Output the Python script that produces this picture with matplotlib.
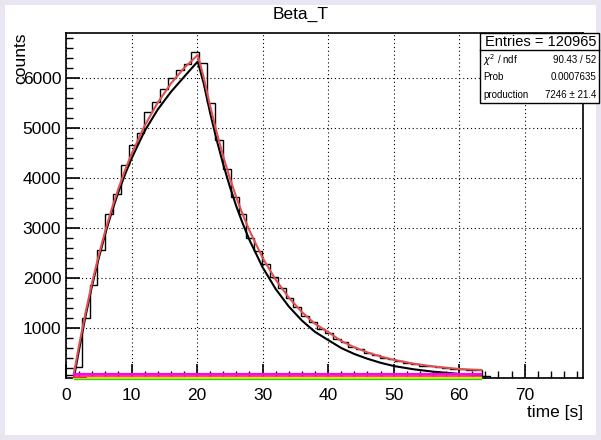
import numpy as np
import matplotlib
matplotlib.use("Agg")
import matplotlib.pyplot as plt
from matplotlib.patches import Rectangle

plt.rcParams['font.family'] = ['Liberation Sans', 'DejaVu Sans']

# histogram data (bin width ~1.2 s, 66 bins on 0..79)
n_bins = 66
x_max = 79.0
counts = [60, 226, 1193, 1860, 2560, 3280, 3690, 4260, 4660, 4900,
          5320, 5530, 5790, 6000, 6170, 6290, 6530, 6300, 5500, 4760,
          4190, 3630, 3290, 2800, 2550, 2280, 2030, 1800, 1600, 1420,
          1240, 1120, 990, 900, 780, 720, 620, 580, 500, 470,
          410, 380, 340, 310, 290, 250, 240, 220, 195, 190,
          175, 165, 170, 45]

# fit curve (red)
fit_t = [1.2, 2, 3, 4, 5, 6, 7, 8, 9, 10, 12, 14, 16, 18, 20.1,
         21, 22, 23, 24, 25, 26, 27, 28, 30, 32, 34, 36, 38, 40,
         42, 44, 46, 48, 50, 53, 56, 60, 63.4]
fit_v = [80, 658, 1318, 1916, 2456, 2946, 3389, 3789, 4152, 4480, 5045, 5508, 5887, 6197, 6460,
         6020, 5440, 4910, 4430, 4000, 3610, 3260, 2948, 2405, 1965, 1608, 1318, 1084, 920,
         740, 615, 513, 431, 365, 288, 232, 180, 160]

# black curve
blk_t = [1.2, 2, 3, 4, 5, 6, 7, 8, 9, 10, 12, 14, 16, 18, 20.1,
         21, 22, 23, 24, 25, 26, 27, 28, 30, 32, 34, 36, 38, 40,
         42, 44, 46, 48, 50, 53, 56, 60, 63.4]
blk_v = [0, 570, 1250, 1860, 2400, 2890, 3330, 3720, 4070, 4390, 4940, 5370, 5720, 6020, 6330,
         5900, 5300, 4760, 4270, 3830, 3430, 3080, 2760, 2215, 1780, 1430, 1149, 922, 760,
         600, 480, 385, 305, 240, 175, 127, 82, 56]

# flat component lines: (colour, level, width)
flat_lines = [("#ff00ff", 75, 1.5), ("#ff1a8c", 45, 1.3), ("#e6e600", 0, 1.6),
              ("#2ecc2e", -22, 1.0)]
flat_start, flat_end = 1.2, 63.4

fig = plt.figure(figsize=(6.01, 4.40), dpi=100)
fig.patch.set_facecolor("#e9e5f1")
fig.patches.append(Rectangle((5 / 601, 5 / 440), 591 / 601, 430 / 440,
                             transform=fig.transFigure, facecolor="white",
                             edgecolor="none", zorder=-10))
ax = fig.add_axes([66 / 601, 62 / 440, 517 / 601, 345 / 440])
ax.set_facecolor("white")

edges = np.linspace(0, x_max, n_bins + 1)
values = np.zeros(n_bins)
values[:len(counts)] = counts
ax.stairs(values, edges, color="black", lw=1.0, zorder=3)

for col, lvl, w in flat_lines:
    ax.plot([flat_start, flat_end], [lvl, lvl], color=col, lw=w, zorder=7,
            clip_on=False)
ax.plot([1.2, 3.0], [8, 8], color="#ff2020", lw=1.4, zorder=8)
ax.plot([3.0, 18], [8, 8], color="#f07030", lw=1.0, zorder=8, alpha=0.6)

ax.plot(blk_t, blk_v, color="black", lw=1.5, zorder=5)
ax.plot(fit_t, fit_v, color="#e05050", lw=1.5, zorder=6)

ax.set_xlim(0, 78.9)
ax.set_ylim(0, 6900)
ax.set_xticks(np.arange(0, 71, 10))
ax.set_xticks(np.arange(0, 79, 2), minor=True)
ax.set_yticks(np.arange(1000, 6001, 1000))
ax.set_yticks(np.arange(200, 6900, 200), minor=True)
ax.tick_params(which="both", direction="in", top=False, right=False,
               labelsize=12.5)
ax.tick_params(which="major", length=10, width=1.2)
ax.tick_params(which="minor", length=5, width=1)
ax.tick_params(axis="x", pad=7)
ax.grid(True, which="major", color="black", linestyle=(0, (1, 2.5)), lw=0.8)
ax.set_axisbelow(False)
for s in ax.spines.values():
    s.set_linewidth(1.2)

fig.text(0.5, 1 - 14 / 440, "Beta_T", ha="center", va="center", fontsize=12.5)
fig.text(21 / 601, 1 - 33 / 440, "counts", rotation=90, ha="center", va="top",
         fontsize=12.5)
fig.text(583 / 601, 1 - 412 / 440, "time [s]", ha="right", va="center",
         fontsize=12.5)

# stats box
bx0, by0, bw, bh = 480 / 601, 1 - 103 / 440, 119 / 601, 70 / 440
fig.patches.append(Rectangle((bx0, by0), bw, bh, transform=fig.transFigure,
                             facecolor="white", edgecolor="black", lw=1,
                             zorder=10))
fig.add_artist(plt.Line2D([bx0, bx0 + bw], [1 - 50 / 440, 1 - 50 / 440],
                          color="black", lw=1, zorder=11))
fig.text(bx0 + bw / 2 + 1 / 601, 1 - 41.5 / 440, "Entries = 120965", ha="center",
         va="center", fontsize=10.5, zorder=12)
rows = [(r"$\chi^2$ / ndf", "90.43 / 52"), ("Prob", "0.0007635"),
        ("production", "7246 ± 21.4")]
for k, (a, b) in enumerate(rows):
    yy = 1 - (60 + k * 17.5) / 440
    fig.text(bx0 + 3 / 601, yy, a, ha="left", va="center", fontsize=7,
             zorder=12)
    fig.text(bx0 + bw - 3 / 601, yy, b, ha="right", va="center",
             fontsize=7, zorder=12)

fig.savefig("out.png", dpi=100, facecolor=fig.get_facecolor())
